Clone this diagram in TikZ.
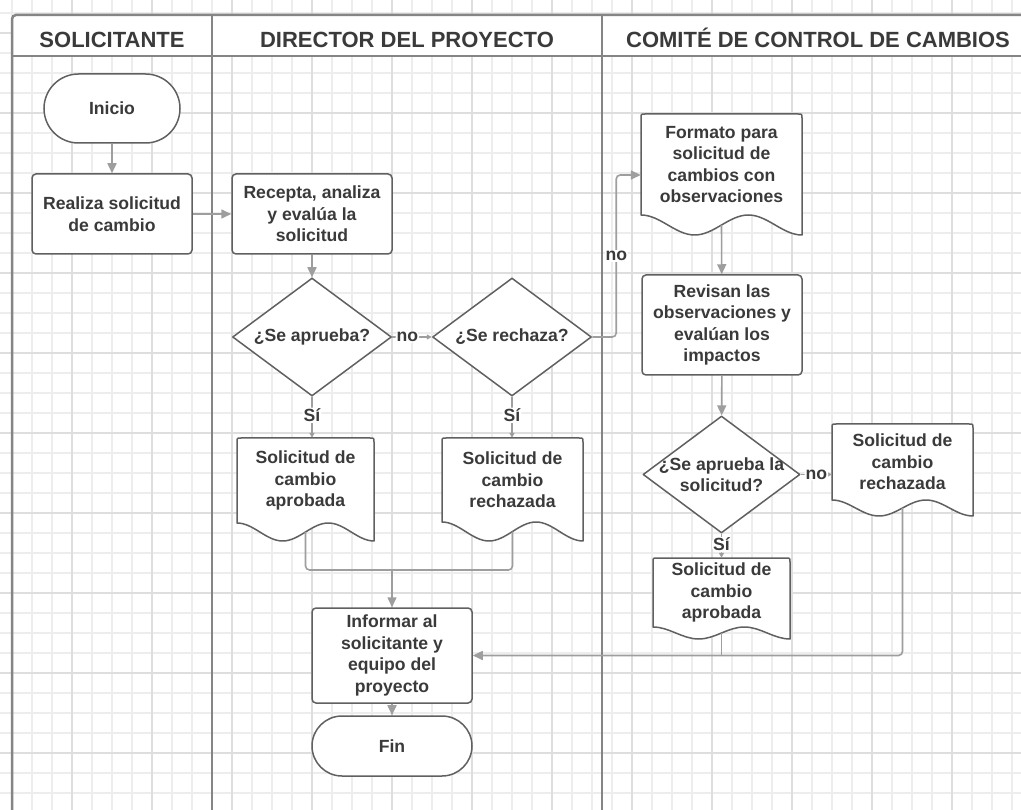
\documentclass[tikz,border=0pt]{standalone}
\usepackage{fontspec}
\setmainfont{Liberation Sans}
\usetikzlibrary{shapes.geometric,shapes.misc,arrows.meta,calc}

\definecolor{gridminor}{HTML}{EDEDED}
\definecolor{gridmajor}{HTML}{DEDEDE}
\definecolor{poolline}{HTML}{858585}
\definecolor{shapeline}{HTML}{606060}
\definecolor{connline}{HTML}{9E9E9E}
\definecolor{txtc}{HTML}{3A3A3A}

% Document symbol: rectangle with rounded top corners and a wavy bottom edge.
% #1 name, #2 cx, #3 cy, #4 width, #5 height of text area, #6 wave depth, #7 text
\newcommand{\docnode}[7]{%
  \pgfmathsetmacro\docL{#2-#4/2}\pgfmathsetmacro\docR{#2+#4/2}%
  \pgfmathsetmacro\docT{#3-#5/2}\pgfmathsetmacro\docB{#3+#5/2}%
  \pgfmathsetmacro\docD{\docB+#6}\pgfmathsetmacro\docK{0.12*#4}%
  \pgfmathsetmacro\docA{\docL+#4/3}\pgfmathsetmacro\docC{\docL+2*#4/3}%
  \draw[docline] (\docL,\docB) -- (\docL,\docT+4) .. controls (\docL,\docT) .. (\docL+4,\docT)
    -- (\docR-4,\docT) .. controls (\docR,\docT) .. (\docR,\docT+4) -- (\docR,\docD)
    .. controls (\docR-\docK,\docD) and (\docC+\docK,\docB) .. (\docC,\docB)
    .. controls (\docC-\docK,\docB) and (\docA+\docK,\docD) .. (\docA,\docD)
    .. controls (\docA-\docK,\docD) and (\docL+\docK,\docB) .. (\docL,\docB) -- cycle;
  \node[docarea, minimum width=#4pt, minimum height=#5pt] (#1) at (#2,#3) {#7};
}

\begin{document}
\begin{tikzpicture}[x=1pt,y=-1pt,
  body/.style={font=\fontsize{17.6}{21.5}\selectfont\bfseries, text=txtc, align=center},
  proc/.style={body, rectangle, rounded corners=4pt, draw=shapeline, line width=1.5pt, fill=white, inner sep=0pt},
  term/.style={body, rounded rectangle, draw=shapeline, line width=1.5pt, fill=white, inner sep=0pt},
  decision/.style={diamond, draw=shapeline, line width=1.5pt, fill=white, inner sep=0pt, line join=round},
  docarea/.style={body, rectangle, inner sep=0pt},
  docline/.style={draw=shapeline, line width=1.5pt, fill=white, line join=round},
  conn/.style={draw=connline, line width=1.6pt, rounded corners=4pt},
  arrow/.style={conn, -{Triangle[length=10pt,width=9pt]}},
  small/.style={conn, line width=1.2pt, -{Triangle[length=5pt,width=5pt]}},
  lbl/.style={body, fill=white, inner sep=1pt},
  header/.style={font=\fontsize{22}{26}\selectfont\bfseries, text=txtc, anchor=base},
  minorline/.style={draw=gridminor, line width=1.2pt},
  majorline/.style={draw=gridmajor, line width=1.5pt},
  lane/.style={draw=poolline, line width=2.5pt},
]
\useasboundingbox (0,0) rectangle (1021,810);
\clip (0,0) rectangle (1021,810);

% background grid
\fill[white] (0,0) rectangle (1021,810);
\foreach \gx in {12,32,...,1012} \draw[minorline] (\gx,0) -- (\gx,810);
\foreach \gy in {13,33,...,793} \draw[minorline] (0,\gy) -- (1021,\gy);
\foreach \gx in {72,152,...,952} \draw[majorline] (\gx,0) -- (\gx,810);
\foreach \gy in {33,113,...,753} \draw[majorline] (0,\gy) -- (1021,\gy);

% swimlane pool
\fill[white] (12,15) rectangle (1030,56);
\draw[lane, rounded corners=4pt] (12,820) -- (12,15) -- (1030,15);
\draw[lane] (12,56) -- (1030,56);
\draw[lane] (212,15) -- (212,820);
\draw[lane] (602,15) -- (602,820);

\node[header] (h1) at (112,48) {SOLICITANTE};
\node[header] (h2) at (407,48) {DIRECTOR DEL PROYECTO};
\node[header] (h3) at (818,48) {COMITÉ DE CONTROL DE CAMBIOS};

% requester lane
\node[term, minimum width=136pt, minimum height=69pt] (ini) at (112,108.5) {Inicio};
\node[proc, minimum width=160pt, minimum height=80pt] (rea) at (112,214) {Realiza solicitud\\de cambio};

% project director lane
\node[proc, minimum width=160pt, minimum height=80pt] (rec) at (312,214) {Recepta, analiza\\y evalúa la\\solicitud};
\node[decision, minimum width=159pt, minimum height=118pt,
      label={[body]center:¿Se aprueba?}] (d1) at (312,337) {};
\node[decision, minimum width=159pt, minimum height=118pt,
      label={[body]center:¿Se rechaza?}] (d2) at (512,337) {};
\docnode{docA}{305.5}{480.5}{137}{85}{18}{Solicitud de\\cambio\\aprobada}
\docnode{docR}{512.5}{480}{141}{84}{19}{Solicitud de\\cambio\\rechazada}
\node[proc, minimum width=160pt, minimum height=95pt] (inf) at (392,655.5) {Informar al\\solicitante y\\equipo del\\proyecto};
\node[term, minimum width=160pt, minimum height=60pt] (fin) at (392,746) {Fin};

% change control board lane
\docnode{form}{721.5}{164.5}{161}{101}{20}{Formato para\\solicitud de\\cambios con\\observaciones}
\node[proc, minimum width=160pt, minimum height=100pt] (rev) at (722,325) {Revisan las\\observaciones y\\evalúan los\\impactos};
\node[decision, minimum width=157pt, minimum height=117pt,
      label={[body]center:{¿Se aprueba la\\solicitud?}}] (d3) at (721.5,474.5) {};
\docnode{docR2}{902.5}{462}{141}{76}{16}{Solicitud de\\cambio\\rechazada}
\docnode{docA2}{721.5}{592.5}{137}{69}{12}{Solicitud de\\cambio\\aprobada}

% connectors
\draw[arrow] (ini) -- (rea);
\draw[arrow] (rea) -- (rec);
\draw[arrow] (rec) -- (d1);
\draw[small] (d1) -- node[lbl, pos=0.38] {no} (d2);
\draw[small] (d1.south) -- node[lbl, pos=0.45] {Sí} (d1.south |- docA.north);
\draw[small] (d2.south) -- node[lbl, pos=0.45] {Sí} (d2.south |- docR.north);
\draw[arrow] (d2.east) -- ++(24,0) |- node[lbl, pos=0.25] {no} ($(form.west)+(0,10.5)$);
\draw[arrow] ($(form.south)+(0,10)$) -- (rev);
\draw[arrow] (rev) -- (d3);
\draw[small] (d3.east) -- node[lbl, pos=0.5] {no} (d3.east -| docR2.west);
\draw[small] (d3.south) -- node[lbl, pos=0.45] {Sí} (d3.south |- docA2.north);

\coordinate (mrg) at (392,570);
\draw[conn] ($(docA.south)+(0,9)$) -- (docA.south |- mrg) -- (docR.south |- mrg) -- ($(docR.south)+(0,9.5)$);
\draw[arrow] (mrg) -- (inf.north);
\draw[arrow] ($(docR2.south)+(0,8)$) |- (inf.east);
\draw[conn] ($(docA2.south)+(0,6)$) -- (docA2.south |- inf.east);
\draw[arrow] (inf) -- (fin);
\end{tikzpicture}
\end{document}
